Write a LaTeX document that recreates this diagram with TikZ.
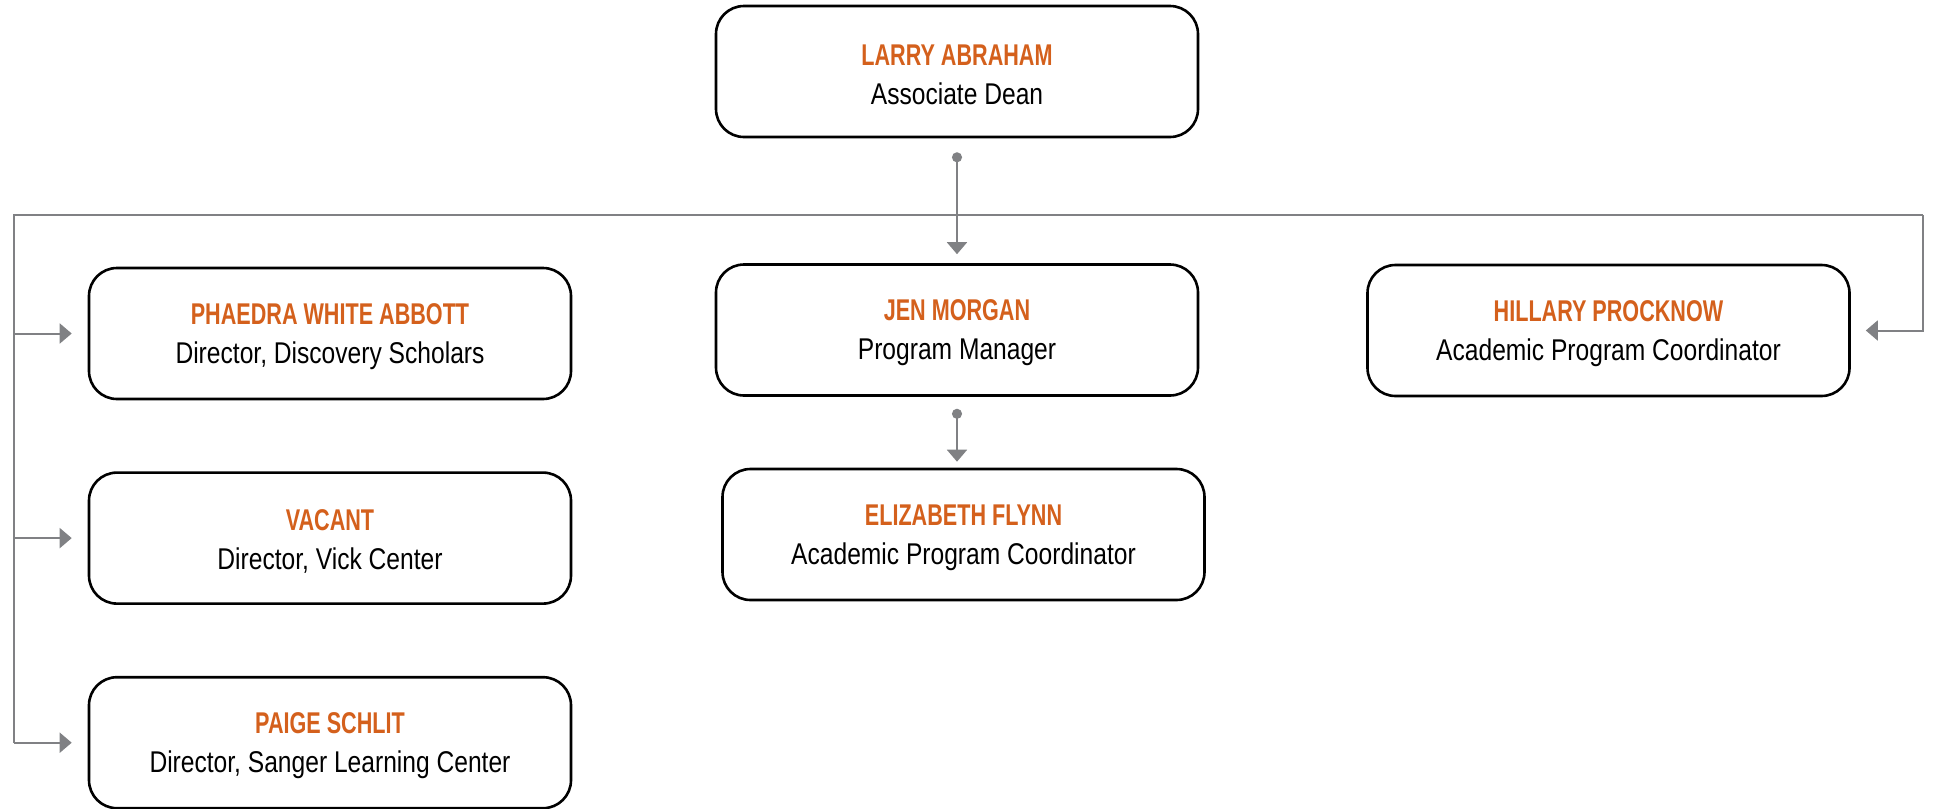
\documentclass[tikz,border=0pt]{standalone}
\usepackage{fontspec}
\setmainfont{Liberation Sans}[FakeStretch=0.82]
\newfontfamily\namefont{Liberation Sans}[FakeStretch=0.72]
\usepackage{xcolor}
\usepackage{tikz}
\usetikzlibrary{arrows.meta, positioning}
\definecolor{BurntOrange}{HTML}{D4601C}
\definecolor{LinkGrey}{HTML}{808184}
\newcommand{\pname}[1]{{\rule{0pt}{13.6pt}\namefont\bfseries\color{BurntOrange}#1}}

\begin{document}
\begin{tikzpicture}[x=0.5pt, y=-0.5pt, node distance=35.5pt,
    every node/.style={fill=white, font=\fontsize{15}{19.5}\selectfont}, align=center,
    person/.style={draw=black, line width=1.3pt, rounded corners=14pt, minimum width=241pt, minimum height=65.5pt, inner sep=0pt},
    link/.style={draw=LinkGrey, line width=1pt},
    tri/.tip={Triangle[width=10pt, length=6pt]},
    dot/.tip={Circle[length=5pt]}]
        \useasboundingbox (0,0) rectangle (1935,809);
        \node (larry) [person] at (957,71.5) {\pname{LARRY ABRAHAM}\\Associate Dean};
        \node (jen) [person] at (957,330) {\pname{JEN MORGAN}\\Program Manager};
        \node (hillary) [person] at (1608.5,330.5) {\pname{HILLARY PROCKNOW}\\Academic Program Coordinator};
        \node (elizabeth) [person] at (963.5,534.5) {\pname{ELIZABETH FLYNN}\\Academic Program Coordinator};
        \node (phaedra) [person] at (330,333.5) {\pname{PHAEDRA WHITE ABBOTT}\\Director, Discovery Scholars};
        \node (vacant) [person, below=of phaedra] {\pname{VACANT}\\Director, Vick Center};
        \node (paige) [person, below=of vacant] {\pname{PAIGE SCHLIT}\\Director, Sanger Learning Center};
        \coordinate (busL) at (14,215);
        \coordinate (busR) at (1923,215);
        \draw [link] (busL |- paige) -- (busL) -- (busR);
        \draw [link, -tri, shorten >=7.5pt] (busR) |- (hillary.east);
        \foreach \n in {phaedra, vacant, paige}
          \draw [link, -tri, shorten >=8pt] (busL |- \n) -- (\n.west);
        \draw [link, dot-tri, shorten <=7pt, shorten >=4.5pt] (larry.south) -- (jen.north);
        \draw [link, dot-tri, shorten <=6pt, shorten >=3pt] (jen.south) -- (jen.south |- elizabeth.north);
      \end{tikzpicture}
\end{document}
